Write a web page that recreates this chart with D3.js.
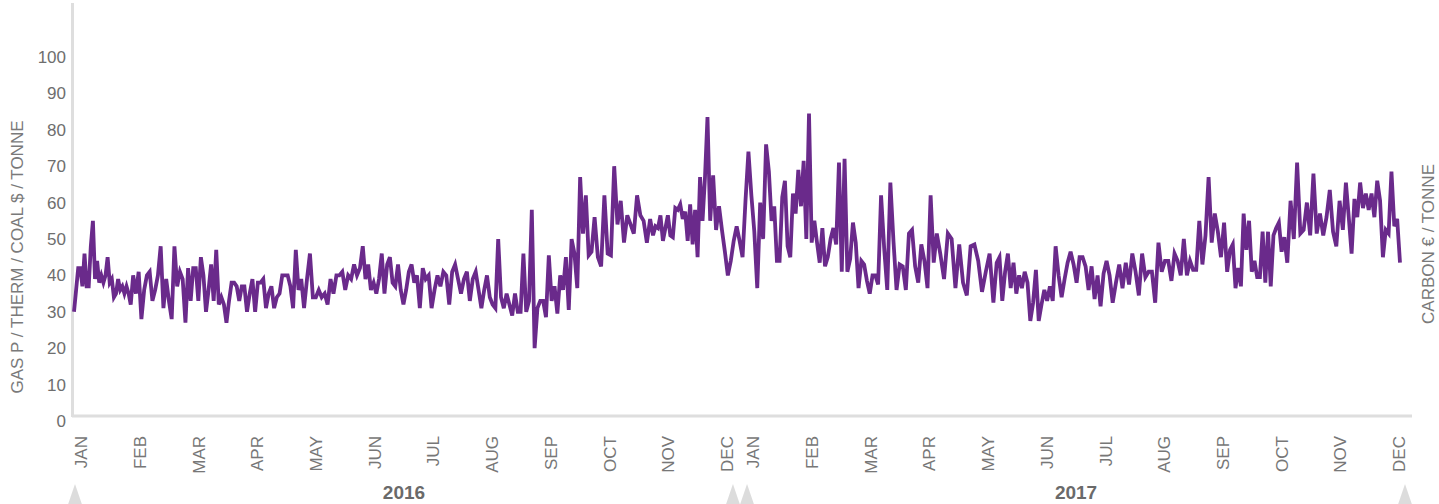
<!DOCTYPE html>
<html>
<head>
<meta charset="utf-8">
<script src="https://cdn.jsdelivr.net/npm/d3@7"></script>
<style>
    body { margin: 0; background: #fff; }
    text { font-family: "Liberation Sans", Arial, Helvetica, sans-serif; }
</style>
</head>
<body>
<div class="chart"></div>
<script>

// Tick labels
var years = [2016, 2017];
var monthLabels = ["JAN", "FEB", "MAR", "APR", "MAY", "JUN", "JUL", "AUG", "SEP", "OCT", "NOV", "DEC"];
var yTicks = [0, 10, 20, 30, 40, 50, 60, 70, 80, 90, 100];

// Gas / coal price observations, one list per month (Jan 2016 - Nov 2017)
var jan16 = [30,36,42,42,37,46,37,37,48,55,39,44,38,40,38,40,45,38,39,34,35,39,36,37,35,37,35,32];
var feb16 = [40,35,41,28,36,40,41,33,36,40,48,31,39,33,28,48,37,41,39,27];
var mar16 = [42,33,42,42,33,45,40,30,36,43,33,47,32,34,32,27,33,38,38,37,33,37,37];
var apr16 = [30,35,39,30,38,38,39,31,35,37,31,34,35,40,40,40,37,31,47,36,39];
var may16 = [31,39,46,34,34,36,34,35,32,39,35,40,40,41,36,40,39,43,40,42];
var jun16 = [48,39,43,36,38,35,39,46,35,43,45,38,37,43,36,32,36,41,43,38,40];
var jul16 = [31,42,39,40,31,36,40,37,41,40,32,41,43,39,35,39,41,33,39,41];
var aug16 = [36,31,36,40,34,32,31,50,34,31,35,32,29,35,30,30,46,30,33,58,20];
var sep16 = [31,33,33,28.5,45.5,33,37,29.5,40,36,45,30.5,50,46,36.5,67,51.5,62,45.5,46.5];
var oct16 = [56,45,42.5,62,46,45.5,70,54,60.5,49,56.5,54,51.5,62,56.5,55,49,55.5];
var nov16 = [51,53.5,53,56.5,49.5,53,56.5,51,50.5,58.5,58,59.5,55.5,57.5,49.5,59.5,48.5,58,45,67,55,67,83.5];
var dec16 = [55,67.5,52.5,59,52.5,46.5,40,44,49.5,53.5,49.5,45,60.5,74,62,52,36.5,60,50,76];
var jan17 = [68.5,55,59,44,44,61.5,66,48,45,62.5,57,69,59,71.5,50,84.5,49,55,49,43.5,53,42.5];
var feb17 = [45,50,53,48.5,71,41,72,41,44.5,54.5,49,36.5,44,43,38.5,35,40,40,37.5];
var mar17 = [62,47.5,36,65.5,49.5,36,43,42.5,36,51.5,52.5,42.5,38,48.5,44,36.5,62,43.5,51.5];
var apr17 = [46,39,51.5,50,36.5,48.5,38,34.5,48,48.5,44,35.5,41,46,32.5];
var may17 = [43.5,45,33,41,46,36.5,43.5,35,40,36.5,41,38,27.5,32.5,41.5,27.5,32,36,33,37,33];
var jun17 = [48,40,34,39,43.5,46.5,43,38,45,45,42.5,36,42.5,33.5,40,31.5,40.5,44,40];
var jul17 = [32.5,38,43,36.5,43.5,37.5,46,41,34.5,46,39.5,41,41,32.5,49,41,44,44];
var aug17 = [38.5,46,44,40,50,40,44,41.5,41.5,55,43,51,67,49,57,52,45,54.5,41];
var sep17 = [47,48.5,36.5,42,37,57,47,55,41,44,39.5,39.5,52,38,52,37,51,53,54.5,46.5,50.5];
var oct17 = [43.5,60.5,50,71,51.5,52.5,60,51,68,51.5,57,51,56,63.5,52,48,60.5,52.5];
var nov17 = [65.5,56,46,61,56,65.5,58.5,62.5,58,62.5,56,66,60.5,45,52.5,51.5,68.5,53.5,55.5,43.5];

var monthly = [jan16, feb16, mar16, apr16, may16, jun16, jul16, aug16, sep16, oct16, nov16, dec16,
               jan17, feb17, mar17, apr17, may17, jun17, jul17, aug17, sep17, oct17, nov17];

var width = 1439,
    height = 504;

var svg = d3.select(".chart")
    .append("svg")
      .attr("width", width)
      .attr("height", height);

// Spread each month's observations evenly over the days of that month
var prices = [];
monthly.forEach(function(values, m) {
    var start = new Date(2016, m, 1),
        end = new Date(2016, m + 1, 1);
    values.forEach(function(v, i) {
        var t = +start + (i + 0.5) / values.length * (end - start);
        prices.push({ date: new Date(t), value: v });
    });
});

// Scales
var x = d3.scaleTime()
    .domain(d3.extent(prices, function(d) { return d.date; }))
    .range([74, 1400]);

var y = d3.scaleLinear()
    .domain([0, 100])
    .range([421, 57]);

var yearBand = d3.scaleBand()
    .domain(years)
    .range([75, 1405])
    .paddingInner(0.021);

// Axis frame lines
svg.append("line")
    .attr("x1", 72.5).attr("x2", 72.5)
    .attr("y1", 3).attr("y2", 417)
    .style("stroke", "#dedede")
    .style("stroke-width", 3);

svg.append("line")
    .attr("x1", 72).attr("x2", 1412)
    .attr("y1", 416).attr("y2", 416)
    .style("stroke", "#dedede")
    .style("stroke-width", 3);

// Y axis tick labels
var yAxis = d3.axisLeft(y)
    .tickValues(yTicks)
    .tickSize(0)
    .tickPadding(0);

var yG = svg.append("g")
    .attr("transform", "translate(66,0)")
    .call(yAxis);

yG.select(".domain").remove();
yG.selectAll("text")
    .style("font-size", "17px")
    .style("font-family", "'Liberation Sans', Arial, sans-serif")
    .style("fill", "#6e6e6e");

// Axis titles
svg.append("text")
    .attr("transform", "translate(23,257) rotate(-90)")
    .attr("text-anchor", "middle")
    .style("font-size", "17px")
    .style("fill", "#7a7a7a")
    .text("GAS P / THERM / COAL $ / TONNE");

svg.append("text")
    .attr("transform", "translate(1434,244) rotate(-90)")
    .attr("text-anchor", "middle")
    .style("font-size", "17px")
    .style("fill", "#7a7a7a")
    .text("CARBON € / TONNE");

// Month labels and year markers, one group per year
years.forEach(function(yr) {
    var x0 = yearBand(yr),
        x1 = x0 + yearBand.bandwidth();

    var months = d3.scalePoint()
        .domain(monthLabels)
        .range([x0 + 6, x1 - 6]);

    svg.selectAll(".month-" + yr)
        .data(monthLabels)
        .enter().append("text")
            .attr("class", "month-" + yr)
            .attr("transform", function(d) { return "translate(" + months(d) + ",436) rotate(-90)"; })
            .attr("dy", "0.36em")
            .attr("text-anchor", "end")
            .style("font-size", "17px")
            .style("fill", "#777")
            .text(function(d) { return d; });

    svg.append("text")
        .attr("x", (x0 + x1) / 2)
        .attr("y", 499)
        .attr("text-anchor", "middle")
        .style("font-size", "19px")
        .style("font-weight", "bold")
        .style("fill", "#6a6a6a")
        .text(yr);

    // Range handles at both ends of the year
    [x0, x1].forEach(function(cx) {
        svg.append("path")
            .attr("d", "M" + cx + ",484 L" + (cx + 7.5) + ",506 L" + (cx - 7.5) + ",506 Z")
            .style("fill", "#dcdcdc");
    });
});

// Price line
var line = d3.line()
    .x(function(d) { return x(d.date); })
    .y(function(d) { return y(d.value); });

svg.append("path")
    .datum(prices)
    .attr("d", line)
    .style("fill", "none")
    .style("stroke", "#6a2a8b")
    .style("stroke-width", 3.8);

</script>
</body>
</html>
